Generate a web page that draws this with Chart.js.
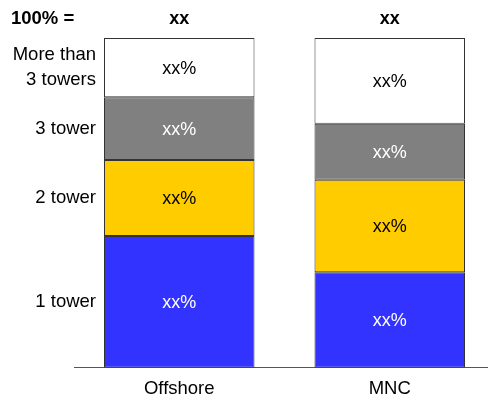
<!DOCTYPE html>
<html>
<head>
<meta charset="utf-8">
<script src="https://cdn.jsdelivr.net/npm/chart.js@4/dist/chart.umd.min.js"></script>
<style>
  html, body { margin: 0; padding: 0; background: #fff; overflow: hidden; }
  #wrap { width: 495px; height: 398px; }
</style>
</head>
<body>
<div id="wrap"><canvas id="myChart"></canvas></div>
<script>
// data
const categories = ['Offshore', 'MNC'];
const seriesNames = ['1 tower', '2 tower', '3 tower', ['More than', '3 towers']];
const oneTower = [40, 29];
const twoTower = [23, 28];
const threeTower = [19, 17];
const moreThan3 = [18, 26];
const segmentText = ['xx%', 'xx%'];
const totals = ['xx', 'xx'];
const totalTitle = '100% =';

const colors = ['#3333ff', '#ffcc00', '#808080', '#ffffff'];
const textColors = ['#ffffff', '#000000', '#ffffff', '#000000'];
const FONT = 'Liberation Sans, Arial, sans-serif';

// labels inside segments, series names on the left, totals on top
const labelPlugin = {
  id: 'labels',
  afterDatasetsDraw(chart) {
    const c = chart.ctx;
    c.save();
    c.textBaseline = 'middle';
    chart.data.datasets.forEach((ds, i) => {
      const meta = chart.getDatasetMeta(i);
      meta.data.forEach((bar, j) => {
        const mid = (bar.y + bar.base) / 2;
        c.font = '18px ' + FONT;
        c.fillStyle = textColors[i];
        c.textAlign = 'center';
        c.fillText(segmentText[j], bar.x, mid + 1);
        if (j === 0) {
          c.font = '18.5px ' + FONT;
          c.fillStyle = '#000';
          c.textAlign = 'right';
          const lx = bar.x - bar.width / 2 - 8;
          const name = ds.label;
          if (Array.isArray(name)) {
            name.forEach((t, k) => c.fillText(t, lx, mid + (k - (name.length - 1) / 2) * 25));
          } else {
            c.fillText(name, lx, mid);
          }
        }
      });
    });
    // top row
    const first = chart.getDatasetMeta(0).data;
    c.font = 'bold 18px ' + FONT;
    c.fillStyle = '#000';
    c.textAlign = 'center';
    first.forEach((bar, j) => c.fillText(totals[j], bar.x, 19));
    c.textAlign = 'left';
    c.font = 'bold 18.5px ' + FONT;
    c.fillText(totalTitle, 11, 19);
    c.restore();
  }
};

const data = {
  labels: categories,
  datasets: [oneTower, twoTower, threeTower, moreThan3].map((vals, i) => ({
    label: seriesNames[i],
    data: vals,
    backgroundColor: colors[i],
    borderColor: '#333333',
    borderWidth: 1,
    borderSkipped: false,
    categoryPercentage: 1,
    barPercentage: 0.715
  }))
};

const options = {
  responsive: true,
  maintainAspectRatio: false,
  animation: false,
  layout: { padding: { left: 74, top: 38, right: 0, bottom: -12 } },
  plugins: {
    legend: { display: false },
    tooltip: { enabled: false }
  },
  scales: {
    x: {
      stacked: true,
      grid: { display: false, drawTicks: false },
      border: { display: true, color: '#555555', width: 1 },
      ticks: { color: '#000', padding: 10, font: { size: 18.5, family: FONT } }
    },
    y: {
      stacked: true,
      display: false,
      min: 0,
      max: 100
    }
  }
};

new Chart(document.getElementById('myChart'), {
  type: 'bar',
  data: data,
  options: options,
  plugins: [labelPlugin]
});
</script>
</body>
</html>
